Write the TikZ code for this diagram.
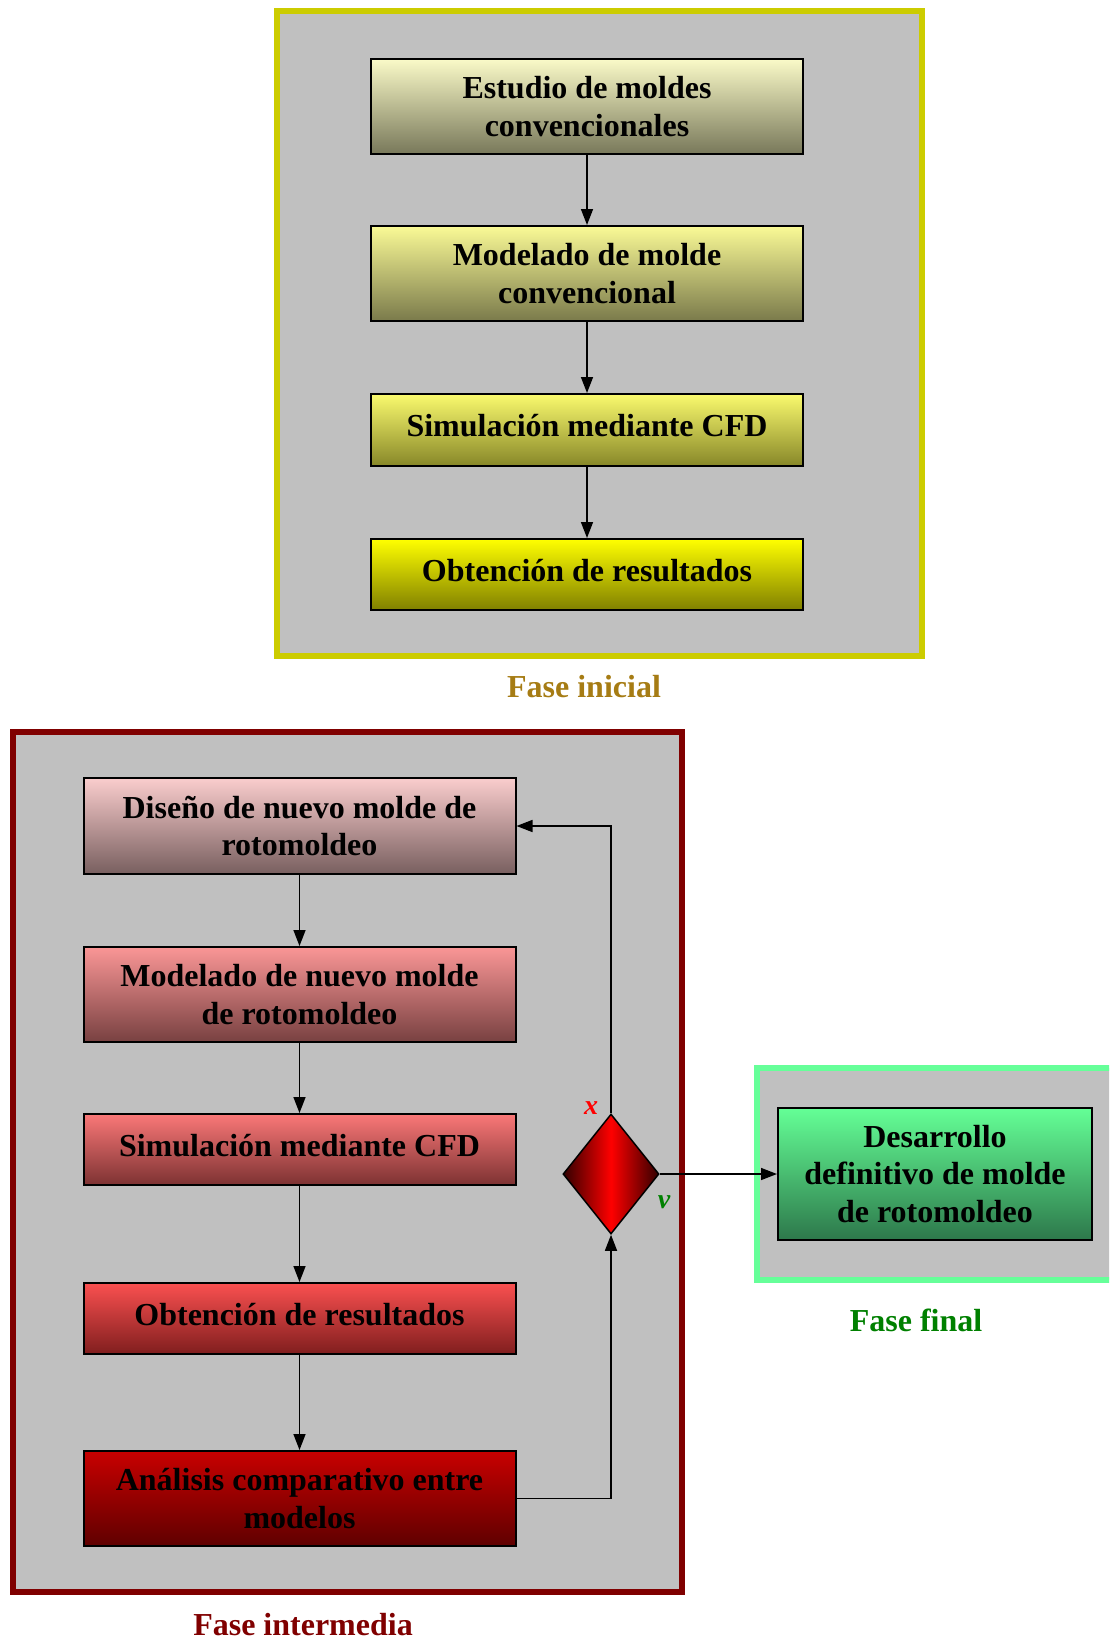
\documentclass[tikz,border=0pt]{standalone}
\usepackage{fontspec}
\setmainfont{Liberation Serif}
\usetikzlibrary{shapes.geometric,arrows.meta}

\definecolor{gris}{RGB}{192,192,192}
\definecolor{marcoamarillo}{RGB}{204,204,0}
\definecolor{marcorojo}{RGB}{128,0,0}
\definecolor{marcoverde}{RGB}{102,255,153}
\definecolor{textoinicial}{RGB}{166,124,20}
\definecolor{textofinal}{RGB}{0,128,0}

\tikzset{
    marco/.style={line width=6pt, draw=#1, fill=gris},
    caja/.style={draw=black, line width=2pt, minimum width=432pt, align=center, inner sep=0pt,
        font=\fontsize{32}{37.5}\selectfont\bfseries},
    unalinea/.style={text height=21pt, text depth=8pt},
    flecha/.style={line width=1.5pt, -{Triangle[length=16pt,width=12pt]}},
    fase/.style={font=\fontsize{32}{37.5}\selectfont\bfseries}
}

\begin{document}
\begin{tikzpicture}[x=1pt,y=-1pt]
    \clip (0,0) rectangle (1109,1640);

    % Marcos
    \draw [marco=marcoamarillo] (277,11) rectangle (922,656);
    \draw [marco=marcorojo] (13,732) rectangle (682,1592);
    \draw [marco=marcoverde] (757,1068) rectangle (1130,1280);

    % Fase inicial
    \node [caja, minimum height=95pt, top color={rgb,255:red,250;green,250;blue,200},
        bottom color={rgb,255:red,120;green,120;blue,90}] (ini1) at (587,106.5)
        {Estudio de moldes\\convencionales};
    \node [caja, minimum height=95pt, top color={rgb,255:red,250;green,250;blue,150},
        bottom color={rgb,255:red,122;green,122;blue,75}] (ini2) at (587,273.5)
        {Modelado de molde\\convencional};
    \node [caja, unalinea, minimum height=72pt, top color={rgb,255:red,250;green,250;blue,110},
        bottom color={rgb,255:red,135;green,135;blue,40}] (ini3) at (587,430)
        {Simulación mediante CFD};
    \node [caja, unalinea, minimum height=71pt, top color={rgb,255:red,255;green,255;blue,0},
        bottom color={rgb,255:red,128;green,128;blue,0}] (ini4) at (587,574.5)
        {Obtención de resultados};

    \draw [flecha] (ini1) -- (ini2);
    \draw [flecha] (ini2) -- (ini3);
    \draw [flecha] (ini3) -- (ini4);

    \node [fase, text=textoinicial] (tini) at (584,687) {Fase inicial};

    % Fase intermedia
    \node [caja, minimum height=96pt, top color={rgb,255:red,250;green,205;blue,205},
        bottom color={rgb,255:red,120;green,95;blue,95}] (int1) at (299.5,826)
        {Diseño de nuevo molde de\\rotomoldeo};
    \node [caja, minimum height=95pt, top color={rgb,255:red,250;green,150;blue,150},
        bottom color={rgb,255:red,120;green,65;blue,65}] (int2) at (299.5,994.5)
        {Modelado de nuevo molde\\de rotomoldeo};
    \node [caja, unalinea, minimum height=71pt, top color={rgb,255:red,250;green,120;blue,120},
        bottom color={rgb,255:red,125;green,50;blue,50}] (int3) at (299.5,1149.5)
        {Simulación mediante CFD};
    \node [caja, unalinea, minimum height=71pt, top color={rgb,255:red,250;green,80;blue,80},
        bottom color={rgb,255:red,128;green,30;blue,30}] (int4) at (299.5,1318.5)
        {Obtención de resultados};
    \node [caja, minimum height=95pt, top color={rgb,255:red,200;green,0;blue,0},
        bottom color={rgb,255:red,95;green,0;blue,0}] (int5) at (299.5,1498.5)
        {Análisis comparativo entre\\modelos};

    \draw [flecha] (int1) -- (int2);
    \draw [flecha] (int2) -- (int3);
    \draw [flecha] (int3) -- (int4);
    \draw [flecha] (int4) -- (int5);

    % Decision
    \node [diamond, draw=black, line width=1.5pt, inner sep=0pt, minimum width=96pt,
        minimum height=120pt, left color={rgb,255:red,50;green,0;blue,0},
        right color={rgb,255:red,50;green,0;blue,0}, middle color=red] (dec) at (611,1174) {};
    \draw [flecha] (int5.east) -| (dec.south);
    \draw [flecha] (dec.north) |- (int1.east);
    \node [text=red, font=\fontsize{28}{30}\selectfont\bfseries\itshape] (etx) at (591,1108) {x};
    \node [text=textofinal, font=\fontsize{28}{30}\selectfont\bfseries\itshape] (etv) at (664,1202) {v};

    \node [fase, text=marcorojo] (tint) at (303,1625) {Fase intermedia};

    % Fase final
    \node [caja, minimum width=314pt, minimum height=132pt, top color={rgb,255:red,100;green,255;blue,150},
        bottom color={rgb,255:red,45;green,120;blue,75}] (fin) at (935,1174)
        {Desarrollo\\definitivo de molde\\de rotomoldeo};
    \draw [flecha] (dec.east) -- (fin.west);

    \node [fase, text=textofinal] (tfin) at (916,1320) {Fase final};
\end{tikzpicture}
\end{document}
